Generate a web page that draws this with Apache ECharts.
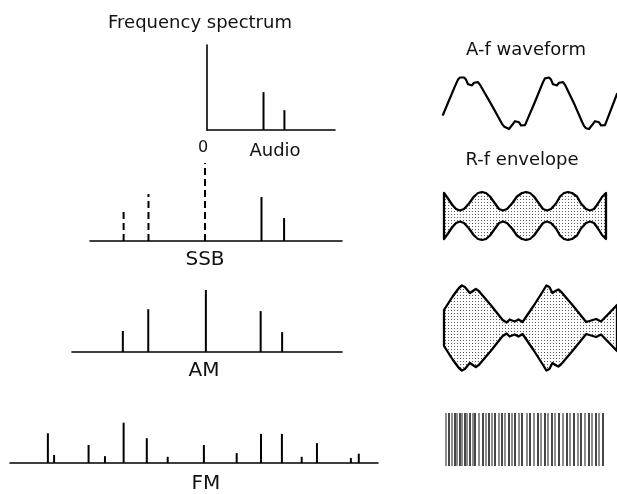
<!DOCTYPE html>
<html><head><meta charset="utf-8">
<script src="https://cdn.jsdelivr.net/npm/echarts@6/dist/echarts.min.js"></script>
<style>html,body{margin:0;padding:0;background:#fff}#c{width:617px;height:494px}</style>
</head><body><div id="c"></div>
<script>
// ---- spectrum data (frequency relative to carrier, amplitude relative to AM carrier) ----
const audioFreq = [1.0, 1.37];
const audioAmp = [0.61, 0.32];
const ssbSolidFreq = [1.0, 1.40];
const ssbSolidAmp = [0.71, 0.37];
const ssbDashedFreq = [-1.44, -1.0, 0];
const ssbDashedAmp = [0.47, 0.76, 1.26];
const amFreq = [-1.47, -1.02, 0, 0.97, 1.35];
const amAmp = [0.34, 0.69, 1.0, 0.66, 0.32];
const fmFreq = [-2.76, -2.65, -2.04, -1.75, -1.42, -1.01, -0.64, 0, 0.58, 1.01, 1.38, 1.73, 2.0, 2.60, 2.74];
const fmAmp  = [0.48, 0.13, 0.29, 0.11, 0.65, 0.40, 0.10, 0.29, 0.16, 0.47, 0.47, 0.10, 0.32, 0.08, 0.15];

// ---- A-f waveform (time, level) ----
const waveT = [0,12,15,17,19,21,23,25,27,29,31,33,35,37,49,59,61,63,66,68,70,72,74,76,78,80,82,92,100,102,104,106,108,110,112,114,116,118,120,122,132,139,141,143,146,148,150,152,154,156,158,160,162,174];
const waveV = [-0.45,0.65,0.9,0.98,1.0,0.98,0.9,0.72,0.65,0.68,0.78,0.82,0.8,0.7,-0.1,-0.8,-0.9,-0.97,-1.0,-0.96,-0.8,-0.7,-0.68,-0.74,-0.86,-0.9,-0.85,0.05,0.8,0.95,1.0,0.98,0.9,0.72,0.65,0.68,0.78,0.82,0.8,0.7,-0.1,-0.72,-0.88,-0.97,-1.0,-0.96,-0.8,-0.7,-0.68,-0.74,-0.86,-0.9,-0.85,0.35];

// ---- SSB r-f envelope (time, half width) ----
const ssbEnvT = [0,4,8,12,16,20,25,30,34,38,42,46,51,55,59,63,68,73,78,82,86,90,95,99,103,107,112,116,120,124,128,133,137,142,146,150,154,158,162];
const ssbEnvH = [23,17.5,11.5,7,5.5,7,12.5,19.5,23,24,23,19.5,12.5,7,5.5,7,12.5,19.5,23,24,23,19.5,12.5,7,5.5,7,12.5,19.5,23,24,23,19.5,12.5,7,5.5,7,12.5,19,23];

// ---- AM r-f envelope (time, half width) ----
const amEnvT = [0,9,15,18,21,26,29,32,35,47,59,63,66,71,75,79,90,99,103,106,109,112,115,118,130,143,148,153,158,174];
const amEnvH = [18,32,40,42.5,41,35,37,39,37,23,8,5.5,8.5,6.5,8.5,6,22,36,42.5,41,35,37,38.5,36,22,6,7.5,9,6.5,23];

// ---- FM r-f cycles (time of each drawn cycle line) ----
const fmLineT = [2,5,8,11,13,16,18,21,23,26,29,31,35,39,42,45,48,51,55,58,61,65,68,71,75,78,83,86,90,94,97,101,104,108,111,115,119,123,126,130,134,137,141,145,148,152,155,159];

// ---- text ----
const titleText = 'Frequency spectrum';
const panelLabels = ['SSB', 'AM', 'FM'];
const audioLabels = ['0', 'Audio'];
const rightLabels = ['A-f waveform', 'R-f envelope'];

const chart = echarts.init(document.getElementById('c'), null, {renderer: 'canvas'});

const pc = document.createElement('canvas'); pc.width = 3; pc.height = 3;
const pctx = pc.getContext('2d');
pctx.fillStyle = '#fff'; pctx.fillRect(0, 0, 3, 3);
pctx.fillStyle = '#5a5a5a'; pctx.fillRect(1, 1, 1, 1);
const pattern = {image: pc, repeat: 'repeat'};

function zip(a, b) { return a.map((v, i) => [v, b[i]]); }

function stem(dash) {
  return function (params, api) {
    const x = api.value(0), h = api.value(1);
    const a = api.coord([x, 0]), b = api.coord([x, h]);
    return {type: 'line', shape: {x1: a[0], y1: a[1], x2: b[0], y2: b[1]},
      style: {stroke: '#000', lineWidth: 2, lineDash: dash || null}};
  };
}
function envelope(T, H) {
  return function (params, api) {
    const pts = [];
    for (let i = 0; i < T.length; i++) pts.push(api.coord([T[i], H[i]]));
    for (let i = T.length - 1; i >= 0; i--) pts.push(api.coord([T[i], -H[i]]));
    return {type: 'polygon', shape: {points: pts},
      style: {fill: pattern, stroke: '#000', lineWidth: 2.3, lineJoin: 'round'}};
  };
}
function cycleLine(params, api) {
  const t = api.value(0);
  const a = api.coord([t, -1]), b = api.coord([t, 1]);
  const dark = params.dataIndex % 2 === 1;
  return {type: 'line', shape: {x1: a[0], y1: a[1], x2: b[0], y2: b[1]},
    style: {stroke: dark ? '#1a1a1a' : '#8c8c8c', lineWidth: dark ? 1.6 : 2}};
}

const U = 62; // px per amplitude unit
const grids = [
  {left: 207, top: 130 - 1.371 * U, width: 128, height: 1.371 * U},
  {left: 90, top: 241 - 1.4 * U, width: 252, height: 1.4 * U},
  {left: 72, top: 352 - 1.4 * U, width: 270, height: 1.4 * U},
  {left: 10, top: 463 - 1.4 * U, width: 368, height: 1.4 * U},
  {left: 443, top: 77, width: 174, height: 52},
  {left: 444, top: 191, width: 162, height: 50},
  {left: 444, top: 283, width: 174, height: 90},
  {left: 444, top: 413, width: 162, height: 53}
];
const xr = [[0, 2.265], [-2.035, 2.425], [-2.37, 2.41], [-3.43, 3.08], [0, 174], [0, 162], [0, 174], [0, 162]];
const yr = [[0, 1.371], [0, 1.4], [0, 1.4], [0, 1.4], [-1, 1], [-25, 25], [-45, 45], [-1, 1]];

const xAxis = xr.map((r, i) => ({
  type: 'value', gridIndex: i, min: r[0], max: r[1], show: i < 4,
  axisLine: {show: true, onZero: false, lineStyle: {color: '#000', width: 1.6}},
  axisTick: {show: false}, axisLabel: {show: false}, splitLine: {show: false}
}));
const yAxis = yr.map((r, i) => ({
  type: 'value', gridIndex: i, min: r[0], max: r[1], show: i === 0,
  axisLine: {show: true, onZero: false, lineStyle: {color: '#000', width: 1.6}},
  axisTick: {show: false}, axisLabel: {show: false}, splitLine: {show: false}
}));

const series = [
  {type: 'custom', xAxisIndex: 0, yAxisIndex: 0, renderItem: stem(), data: zip(audioFreq, audioAmp), clip: false},
  {type: 'custom', xAxisIndex: 1, yAxisIndex: 1, renderItem: stem(), data: zip(ssbSolidFreq, ssbSolidAmp), clip: false},
  {type: 'custom', xAxisIndex: 1, yAxisIndex: 1, renderItem: stem([7, 4]), data: zip(ssbDashedFreq, ssbDashedAmp), clip: false},
  {type: 'custom', xAxisIndex: 2, yAxisIndex: 2, renderItem: stem(), data: zip(amFreq, amAmp), clip: false},
  {type: 'custom', xAxisIndex: 3, yAxisIndex: 3, renderItem: stem(), data: zip(fmFreq, fmAmp), clip: false},
  {type: 'line', xAxisIndex: 4, yAxisIndex: 4, data: zip(waveT, waveV), smooth: false, showSymbol: false, symbol: 'none',
    lineStyle: {color: '#000', width: 2.2, join: 'round', cap: 'round'}, clip: false},
  {type: 'custom', xAxisIndex: 5, yAxisIndex: 5, renderItem: envelope(ssbEnvT, ssbEnvH), data: [[0, 0]], clip: false},
  {type: 'custom', xAxisIndex: 6, yAxisIndex: 6, renderItem: envelope(amEnvT, amEnvH), data: [[0, 0]], clip: false},
  {type: 'custom', xAxisIndex: 7, yAxisIndex: 7, renderItem: cycleLine, data: fmLineT.map(t => [t, 0]), clip: false}
];

function txt(s, x, y, size) {
  return {type: 'text', x: x, y: y, style: {text: s, fill: '#111', font: size + 'px "DejaVu Sans"', textAlign: 'center', textVerticalAlign: 'middle'}};
}
const graphic = [
  txt(titleText, 200, 23, 18),
  txt(audioLabels[0], 203, 148, 16),
  txt(audioLabels[1], 275, 151, 18),
  txt(panelLabels[0], 205, 260, 20),
  txt(panelLabels[1], 204, 371, 20),
  txt(panelLabels[2], 206, 484, 20),
  txt(rightLabels[0], 526, 50, 18),
  txt(rightLabels[1], 522, 160, 18)
];

chart.setOption({
  animation: false,
  backgroundColor: '#fff',
  grid: grids,
  xAxis: xAxis,
  yAxis: yAxis,
  series: series,
  graphic: graphic
});
</script></body></html>
